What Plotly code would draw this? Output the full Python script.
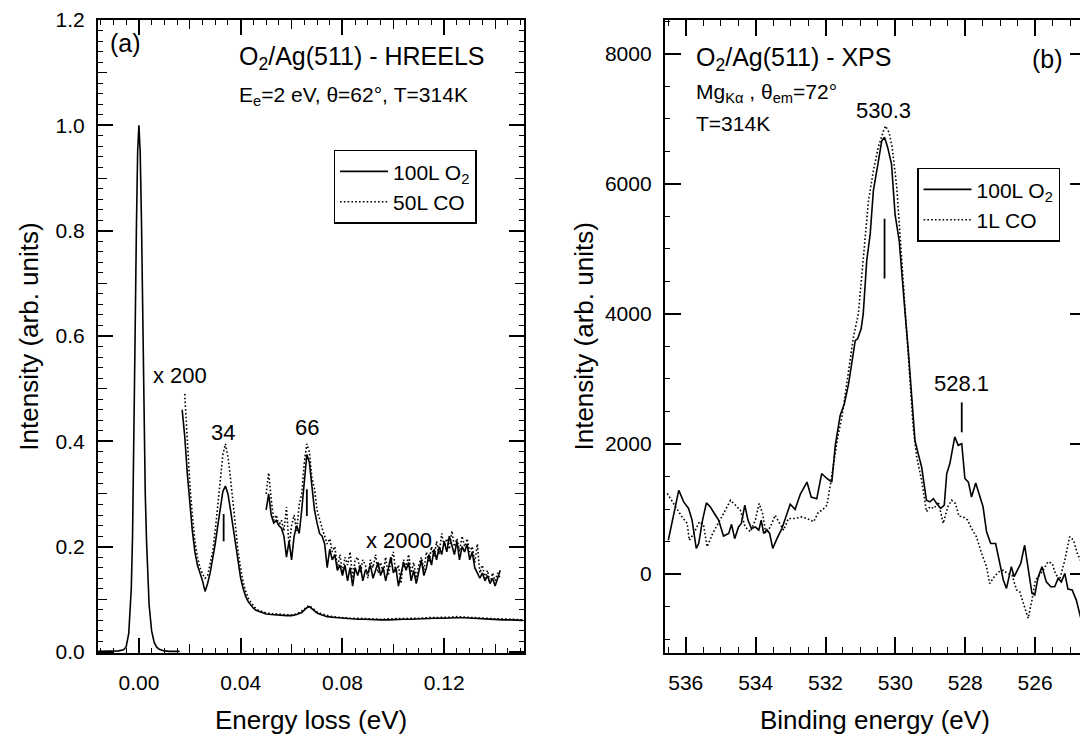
import plotly.graph_objects as go

FONT = "Liberation Sans, Arial, sans-serif"

# ---------------- HREELS (panel a) ----------------
# elastic peak (x1)
el_x = [-0.016, -0.010, -0.008, -0.006, -0.005, -0.004, -0.003, -0.0025, -0.002, -0.0015, -0.001, -0.0005,
        0.0, 0.0005, 0.001, 0.0015, 0.002, 0.0025, 0.003, 0.0035, 0.004, 0.005, 0.006, 0.007, 0.008,
        0.010, 0.012, 0.016]
el_y = [0.001, 0.001, 0.002, 0.004, 0.010, 0.035, 0.12, 0.22, 0.38, 0.60, 0.80, 0.95,
        1.00, 0.95, 0.82, 0.63, 0.44, 0.30, 0.21, 0.14, 0.09, 0.04, 0.018, 0.009, 0.005,
        0.002, 0.001, 0.001]

# x200 traces
o2_200_x = [0.017, 0.018, 0.019, 0.020, 0.021, 0.022, 0.023, 0.024, 0.025, 0.026, 0.027, 0.028, 0.029,
            0.030, 0.031, 0.032, 0.033, 0.034, 0.035, 0.036, 0.037, 0.038, 0.039, 0.040, 0.041, 0.042,
            0.043, 0.044, 0.045, 0.046, 0.047, 0.048, 0.049, 0.050, 0.052, 0.054, 0.056, 0.058, 0.060,
            0.062, 0.064, 0.065, 0.066, 0.067, 0.068, 0.069, 0.070, 0.072, 0.074, 0.076, 0.078, 0.080,
            0.083, 0.086, 0.089, 0.092, 0.095, 0.098, 0.101, 0.104, 0.107, 0.110, 0.113, 0.116, 0.119,
            0.122, 0.125, 0.128, 0.131, 0.134, 0.137, 0.140, 0.143, 0.146, 0.149, 0.151]
o2_200_y = [0.46, 0.41, 0.34, 0.28, 0.23, 0.19, 0.165, 0.15, 0.135, 0.115, 0.13, 0.15, 0.175,
            0.205, 0.24, 0.275, 0.305, 0.315, 0.30, 0.27, 0.235, 0.20, 0.165, 0.14, 0.12, 0.105,
            0.095, 0.088, 0.083, 0.079, 0.077, 0.075, 0.073, 0.072, 0.071, 0.070, 0.069, 0.069, 0.069,
            0.071, 0.075, 0.079, 0.084, 0.086, 0.082, 0.077, 0.074, 0.070, 0.067, 0.066, 0.065, 0.064,
            0.063, 0.062, 0.062, 0.061, 0.061, 0.061, 0.062, 0.062, 0.062, 0.063, 0.063, 0.064, 0.064,
            0.065, 0.065, 0.065, 0.064, 0.064, 0.063, 0.062, 0.061, 0.061, 0.060, 0.060]

co_200_x = [0.018, 0.019, 0.020, 0.021, 0.022, 0.023, 0.024, 0.025, 0.026, 0.027, 0.028, 0.029,
            0.030, 0.031, 0.032, 0.033, 0.034, 0.035, 0.036, 0.037, 0.038, 0.039, 0.040, 0.041, 0.042,
            0.043, 0.044, 0.045, 0.046, 0.047, 0.048, 0.049, 0.050, 0.052, 0.054, 0.056, 0.058, 0.060,
            0.062, 0.064, 0.065, 0.066, 0.067, 0.068, 0.069, 0.070, 0.072, 0.074, 0.076, 0.078, 0.080,
            0.083, 0.086, 0.089, 0.092, 0.095, 0.098, 0.101, 0.104, 0.107, 0.110, 0.113, 0.116, 0.119,
            0.122, 0.125, 0.128, 0.131, 0.134, 0.137, 0.140, 0.143, 0.146, 0.149, 0.151]
co_200_y = [0.49, 0.40, 0.32, 0.26, 0.21, 0.18, 0.16, 0.148, 0.14, 0.145, 0.165, 0.19,
            0.23, 0.28, 0.33, 0.375, 0.395, 0.37, 0.33, 0.28, 0.23, 0.19, 0.158, 0.132, 0.115,
            0.102, 0.094, 0.087, 0.082, 0.079, 0.077, 0.075, 0.074, 0.073, 0.072, 0.071, 0.071, 0.070,
            0.072, 0.077, 0.081, 0.086, 0.088, 0.084, 0.079, 0.076, 0.072, 0.069, 0.067, 0.066, 0.065,
            0.064, 0.064, 0.063, 0.063, 0.062, 0.063, 0.063, 0.064, 0.063, 0.064, 0.065, 0.065, 0.066,
            0.066, 0.067, 0.066, 0.066, 0.065, 0.064, 0.063, 0.063, 0.062, 0.061, 0.061]

# x2000 traces (0.050 ... 0.142 eV, 0.001 eV steps)
x2000_x = [round(0.050 + 0.001 * i, 3) for i in range(93)]
o2_2000_y = [0.27, 0.30, 0.26, 0.245, 0.25, 0.24, 0.235, 0.22, 0.18, 0.21,
             0.175, 0.22, 0.24, 0.225, 0.27, 0.33, 0.375, 0.36, 0.31, 0.27,
             0.245, 0.225, 0.22, 0.205, 0.16, 0.195, 0.175, 0.185, 0.155, 0.165,
             0.145, 0.165, 0.135, 0.16, 0.125, 0.16, 0.145, 0.165, 0.135, 0.155,
             0.15, 0.165, 0.14, 0.155, 0.17, 0.145, 0.16, 0.135, 0.155, 0.18,
             0.15, 0.16, 0.125, 0.15, 0.17, 0.155, 0.17, 0.135, 0.155, 0.13,
             0.15, 0.175, 0.145, 0.16, 0.185, 0.165, 0.195, 0.175, 0.20, 0.185,
             0.21, 0.19, 0.22, 0.20, 0.185, 0.21, 0.175, 0.20, 0.19, 0.205,
             0.175, 0.19, 0.16, 0.15, 0.14, 0.15, 0.135, 0.145, 0.13, 0.14,
             0.125, 0.14, 0.155]
co_2000_y = [0.30, 0.34, 0.29, 0.25, 0.26, 0.24, 0.25, 0.23, 0.275, 0.20,
             0.24, 0.26, 0.23, 0.28, 0.30, 0.36, 0.395, 0.38, 0.33, 0.31,
             0.27, 0.25, 0.235, 0.22, 0.205, 0.215, 0.19, 0.20, 0.16, 0.185,
             0.15, 0.18, 0.165, 0.19, 0.14, 0.175, 0.18, 0.15, 0.175, 0.165,
             0.14, 0.175, 0.16, 0.185, 0.15, 0.17, 0.15, 0.18, 0.145, 0.17,
             0.19, 0.15, 0.165, 0.13, 0.175, 0.16, 0.185, 0.15, 0.17, 0.14,
             0.165, 0.18, 0.155, 0.19, 0.17, 0.20, 0.18, 0.21, 0.185, 0.225,
             0.20, 0.215, 0.195, 0.23, 0.20, 0.215, 0.19, 0.22, 0.20, 0.215,
             0.19, 0.20, 0.17, 0.205, 0.15, 0.165, 0.14, 0.155, 0.13, 0.15,
             0.135, 0.15, 0.14]

hreels_peaks = [0.0333, 0.066]
hreels_mark_lo = [0.21, 0.258]
hreels_mark_hi = [0.262, 0.309]

# ---------------- XPS (panel b) ----------------
xps_o2_x = [536.50, 536.20, 536.06, 535.92, 535.82, 535.70, 535.63, 535.52, 535.41, 535.30, 535.15, 535.06,
            534.92, 534.77, 534.69, 534.60, 534.49, 534.41, 534.31, 534.22, 534.12, 534.01, 533.91, 533.84,
            533.77, 533.68, 533.60, 533.51, 533.39, 533.25, 533.15, 533.01, 532.87, 532.72, 532.53, 532.41,
            532.25, 532.11, 531.96, 531.82, 531.72, 531.58, 531.46, 531.34, 531.25, 531.15, 531.08, 530.98,
            530.92, 530.82, 530.72, 530.63, 530.50, 530.39, 530.31, 530.22, 530.11, 530.01, 529.89, 529.79,
            529.72, 529.63, 529.53, 529.44, 529.36, 529.25, 529.11, 529.01, 528.91, 528.82, 528.70, 528.60,
            528.53, 528.44, 528.30, 528.20, 528.10, 528.01, 527.91, 527.82, 527.70, 527.58, 527.49, 527.39,
            527.27, 527.13, 527.04, 526.91, 526.82, 526.75, 526.68, 526.60, 526.51, 526.41, 526.30, 526.20,
            526.09, 526.01, 525.91, 525.80, 525.68, 525.55, 525.44, 525.34, 525.25, 525.15, 525.06, 524.94,
            524.82, 524.68, 524.54]
xps_o2_y = [520, 1290, 1110, 1010, 830, 395, 470, 830, 1095, 1035, 905, 830,
            585, 625, 765, 545, 725, 780, 1060, 830, 700, 725, 675, 830,
            625, 685, 625, 395, 545, 700, 855, 1075, 995, 1230, 1415, 1185,
            1160, 1545, 1470, 1415, 1980, 2440, 2620, 2925, 3235, 3590, 3620, 3770,
            4000, 4820, 5230, 5895, 6305, 6660, 6715, 6560, 6305, 5535, 5125, 4410,
            4000, 3440, 2720, 2060, 1880, 1650, 1135, 1110, 1160, 1085, 1010, 1060,
            1545, 1700, 2110, 1980, 2005, 1470, 1415, 1185, 1400, 1185, 1035, 650,
            470, 470, 240, -90, -220, -40, 115, -40, 60, 165, 445, 60,
            -295, -320, -40, 115, -120, -195, -195, -65, -120, 10, -230, -245,
            -400, -705, -960]

xps_co_x = [536.53, 536.30, 536.11, 535.96, 535.90, 535.77, 535.61, 535.49, 535.39, 535.23, 535.06, 534.92,
            534.72, 534.58, 534.44, 534.30, 534.15, 534.01, 533.90, 533.80, 533.71, 533.58, 533.44, 533.34,
            533.20, 533.06, 532.87, 532.68, 532.53, 532.34, 532.20, 532.09, 531.96, 531.87, 531.75, 531.65,
            531.53, 531.42, 531.30, 531.20, 531.06, 530.96, 530.87, 530.77, 530.63, 530.49, 530.34, 530.28,
            530.18, 530.09, 529.96, 529.87, 529.77, 529.68, 529.58, 529.49, 529.39, 529.25, 529.11, 529.01,
            528.89, 528.77, 528.63, 528.50, 528.39, 528.28, 528.18, 528.06, 527.93, 527.82, 527.68, 527.53,
            527.39, 527.30, 527.17, 527.04, 526.91, 526.79, 526.66, 526.53, 526.44, 526.31, 526.20, 526.09,
            525.99, 525.90, 525.77, 525.63, 525.51, 525.42, 525.30, 525.15, 525.01, 524.90, 524.79, 524.66,
            524.54]
xps_co_y = [1240, 1035, 880, 780, 520, 625, 805, 750, 420, 625, 805, 930,
            1135, 1060, 985, 725, 650, 830, 1085, 930, 625, 725, 905, 805,
            675, 855, 855, 880, 855, 805, 955, 985, 1060, 1340, 1800, 2110,
            2415, 2825, 3335, 3645, 4000, 4565, 5125, 5740, 6200, 6560, 6815, 6890,
            6790, 6560, 5945, 5230, 4410, 3800, 3030, 2260, 1800, 1445, 960, 1035,
            1010, 1110, 780, 1035, 1135, 1085, 890, 880, 830, 700, 575, 315,
            115, -145, -40, 35, 60, 10, -15, -245, -270, -500, -680, -400,
            -90, -40, 60, 190, 165, 10, -90, 215, 575, 520, 315, 165,
            215]

xps_peaks = [530.31, 528.1]
xps_mark_lo = [4545, 2180]
xps_mark_hi = [5465, 2640]

# ---------------- figure ----------------
SOLID = dict(color="black", width=1.6)
DOT = dict(color="black", width=1.6, dash="1.6px,2.2px")

fig = go.Figure()
fig.add_trace(go.Scatter(x=el_x, y=el_y, mode="lines", line=SOLID, showlegend=False, xaxis="x", yaxis="y"))
fig.add_trace(go.Scatter(x=o2_200_x, y=o2_200_y, mode="lines", line=SOLID, name="100L O<sub>2</sub>",
                         legend="legend", xaxis="x", yaxis="y"))
fig.add_trace(go.Scatter(x=co_200_x, y=co_200_y, mode="lines", line=DOT, name="50L CO",
                         legend="legend", xaxis="x", yaxis="y"))
fig.add_trace(go.Scatter(x=x2000_x, y=o2_2000_y, mode="lines", line=SOLID, showlegend=False, xaxis="x", yaxis="y"))
fig.add_trace(go.Scatter(x=x2000_x, y=co_2000_y, mode="lines", line=DOT, showlegend=False, xaxis="x", yaxis="y"))
for p, lo, hi in zip(hreels_peaks, hreels_mark_lo, hreels_mark_hi):
    fig.add_trace(go.Scatter(x=[p, p], y=[lo, hi], mode="lines", line=dict(color="black", width=1.8),
                             showlegend=False, xaxis="x", yaxis="y"))

fig.add_trace(go.Scatter(x=xps_o2_x, y=xps_o2_y, mode="lines", line=SOLID, name="100L O<sub>2</sub>",
                         legend="legend2", xaxis="x2", yaxis="y2"))
fig.add_trace(go.Scatter(x=xps_co_x, y=xps_co_y, mode="lines", line=DOT, name="1L CO",
                         legend="legend2", xaxis="x2", yaxis="y2"))
for p, lo, hi in zip(xps_peaks, xps_mark_lo, xps_mark_hi):
    fig.add_trace(go.Scatter(x=[p, p], y=[lo, hi], mode="lines", line=dict(color="black", width=1.8),
                             showlegend=False, xaxis="x2", yaxis="y2"))

# dummy traces binding the medium-tick overlay axes
fig.add_trace(go.Scatter(x=[None], y=[None], xaxis="x3", yaxis="y", showlegend=False, hoverinfo="skip"))
fig.add_trace(go.Scatter(x=[None], y=[None], xaxis="x", yaxis="y3", showlegend=False, hoverinfo="skip"))

TICKFONT = dict(family=FONT, size=21, color="black")
base = dict(showline=True, linewidth=2, linecolor="black", mirror="ticks", ticks="inside",
            tickcolor="black", tickwidth=1.6, showgrid=False, zeroline=False, tickfont=TICKFONT,
            ticklabeloverflow="allow")

HX = [-0.01608, 0.1514]
HY = [-0.002, 1.2001]
XX = [536.6, 524.543]
XY = [-1213, 8519]

# the page body keeps an 8 px default margin, so the figure is 8 px smaller
fig.update_layout(
    width=1080, height=727,
    margin=dict(l=90, r=0, t=11, b=82),
    paper_bgcolor="white", plot_bgcolor="white",
    font=dict(family=FONT, color="black"),
    xaxis=dict(base, domain=[0, 0.4313], range=HX, anchor="y", dtick=0.04, tick0=0, ticklen=15,
               tickformat=".2f", ticklabelstandoff=10,
               minor=dict(dtick=0.005, tick0=0, ticklen=5, ticks="inside", tickcolor="black", tickwidth=1.4)),
    yaxis=dict(base, domain=[0, 1], range=HY, anchor="x", dtick=0.2, tick0=0, ticklen=15,
               tickformat=".1f", ticklabelstandoff=7,
               minor=dict(dtick=0.02, tick0=0, ticklen=5, ticks="inside", tickcolor="black", tickwidth=1.4)),
    xaxis3=dict(overlaying="x", anchor="y", range=HX, dtick=0.02, tick0=0, ticks="inside", ticklen=9,
                tickwidth=1.4, tickcolor="black", mirror="ticks", showline=False, showticklabels=False,
                showgrid=False, zeroline=False),
    yaxis3=dict(overlaying="y", anchor="x", range=HY, dtick=0.1, tick0=0, ticks="inside", ticklen=9,
                tickwidth=1.4, tickcolor="black", mirror="ticks", showline=False, showticklabels=False,
                showgrid=False, zeroline=False),
    xaxis2=dict(base, domain=[0.5737, 1.0], range=XX, anchor="y2", dtick=2, tick0=0, ticklen=16,
                tickformat="d", ticklabelstandoff=10,
                minor=dict(dtick=0.5, tick0=0, ticklen=6, ticks="inside", tickcolor="black", tickwidth=1.4)),
    yaxis2=dict(base, domain=[0, 1], range=XY, anchor="x2", dtick=2000, tick0=0, ticklen=16,
                tickformat="d", ticklabelstandoff=7,
                minor=dict(dtick=500, tick0=0, ticklen=5, ticks="inside", tickcolor="black", tickwidth=1.4)),
    legend=dict(x=0.2384, y=0.795, xanchor="left", yanchor="top", bordercolor="black", borderwidth=1.5,
                bgcolor="white", font=dict(family=FONT, size=21, color="black"), itemwidth=48,
                tracegroupgap=0),
    legend2=dict(x=0.829, y=0.7666, xanchor="left", yanchor="top", bordercolor="black", borderwidth=1.5,
                 bgcolor="white", font=dict(family=FONT, size=21, color="black"), itemwidth=48,
                 tracegroupgap=0),
)

def ann(text, x, y, xref, yref, size, xanchor="center", yanchor="middle", angle=0):
    fig.add_annotation(text=text, x=x, y=y, xref=xref, yref=yref, showarrow=False,
                       xanchor=xanchor, yanchor=yanchor, textangle=angle,
                       font=dict(family=FONT, size=size, color="black"))

# panel a texts
ann("(a)", -0.0122, 1.156, "x", "y", 25, xanchor="left")
ann("O<sub>2</sub>/Ag(511) - HREELS", 0.0384, 1.128, "x", "y", 25, xanchor="left")
ann("E<sub>e</sub>=2 eV, θ=62°, T=314K", 0.0384, 1.056, "x", "y", 21, xanchor="left")
ann("x 200", 0.0161, 0.525, "x", "y", 22)
ann("34", 0.0329, 0.417, "x", "y", 22)
ann("66", 0.0659, 0.4265, "x", "y", 22)
ann("x 2000", 0.1024, 0.2123, "x", "y", 22)

# panel b texts
ann("O<sub>2</sub>/Ag(511) - XPS", 535.77, 7921, "x2", "y2", 25, xanchor="left")
ann("Mg<sub>Kα</sub> , θ<sub>em</sub>=72°", 535.77, 7399, "x2", "y2", 21, xanchor="left")
ann("T=314K", 535.77, 6923, "x2", "y2", 21, xanchor="left")
ann("(b)", 525.14, 7921, "x2", "y2", 25, xanchor="right")
ann("530.3", 530.34, 7122, "x2", "y2", 22)
ann("528.1", 528.11, 2932, "x2", "y2", 22)

# axis titles
ann("Energy loss (eV)", 0.2157, -0.106, "paper", "paper", 26)
ann("Binding energy (eV)", 0.7869, -0.106, "paper", "paper", 26)
ann("Intensity (arb. units)", -0.0707, 0.5, "paper", "paper", 26, angle=-90)
ann("Intensity (arb. units)", 0.4919, 0.5, "paper", "paper", 26, angle=-90)

fig.write_html("out.html")
